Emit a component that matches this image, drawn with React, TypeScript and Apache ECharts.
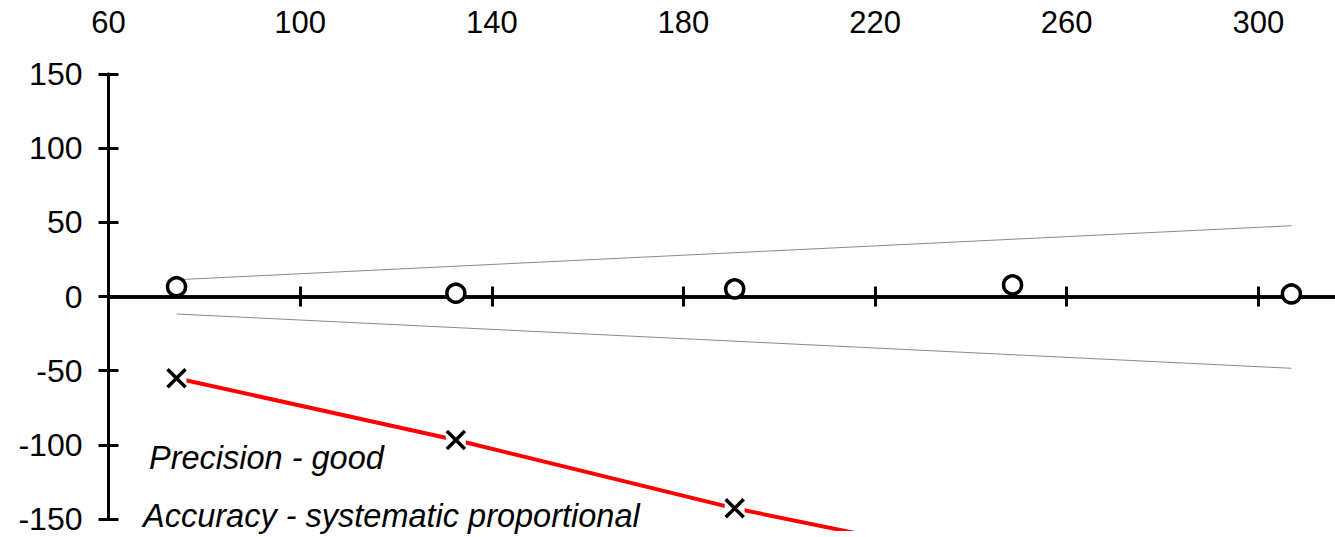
import React, { useEffect, useRef } from "react";
import * as echarts from "echarts";

// Precision series (circles)
const precisionX = [74.2, 132.5, 190.7, 248.7, 306.9];
const precisionY = [6.6, 2.2, 5.1, 7.8, 1.7];
// Accuracy series (crosses + red line)
const accuracyX = [74.2, 132.5, 190.7, 248.7];
const accuracyY = [-55.1, -96.7, -142.8, -181.2];
// Limit lines
const limitX = [74.2, 306.9];
const upperLimitY = [11.3, 47.7];
const lowerLimitY = [-11.8, -48.4];
// Ticks
const xTickLabels = [60, 100, 140, 180, 220, 260, 300];
const xTicks = [100, 140, 180, 220, 260, 300];
const yTickLabels = [-150, -100, -50, 0, 50, 100, 150];
const notes = ["Precision - good", "Accuracy - systematic proportional"];

const FONT = "'Liberation Sans', Arial, sans-serif";

const zip = (xs: number[], ys: number[]) => xs.map((x, i) => [x, ys[i]]);

export default function App() {
  const ref = useRef<HTMLDivElement>(null);
  useEffect(() => {
    if (!ref.current) return;
    const chart = echarts.init(ref.current, undefined, { renderer: "svg" });
    const xMin = 60;
    const xMax = 316;
    const tickStyle = { color: "#000", width: 3 };
    const axisLineStyle = { color: "#000", width: 3.5 };
    chart.setOption({
      animation: false,
      backgroundColor: "#fff",
      grid: [
        { left: 108.5, right: 0, top: 74, bottom: 18 },
        { left: 108.5, right: 0, top: 74, bottom: 8 },
      ],
      xAxis: [
        {
          type: "value", gridIndex: 0, min: xMin, max: xMax, position: "top",
          axisLine: { show: false }, axisTick: { show: false }, splitLine: { show: false },
          axisLabel: { customValues: xTickLabels, fontSize: 31, color: "#000", fontFamily: FONT, margin: 36 },
        },
        {
          type: "value", gridIndex: 0, min: xMin, max: xMax, position: "bottom",
          axisLine: { show: true, onZero: true, onZeroAxisIndex: 0, lineStyle: axisLineStyle },
          axisTick: { show: true, customValues: xTicks, length: 10, inside: false, lineStyle: tickStyle },
          axisLabel: { show: false }, splitLine: { show: false },
        },
        {
          type: "value", gridIndex: 0, min: xMin, max: xMax, position: "bottom",
          axisLine: { show: true, onZero: true, onZeroAxisIndex: 1, lineStyle: axisLineStyle },
          axisTick: { show: true, customValues: xTicks, length: 10, inside: true, lineStyle: tickStyle },
          axisLabel: { show: false }, splitLine: { show: false },
        },
        { type: "value", gridIndex: 1, min: xMin, max: xMax, show: false },
      ],
      yAxis: [
        {
          type: "value", gridIndex: 0, min: -150, max: 150, interval: 50, position: "left",
          axisLine: { show: true, onZero: false, lineStyle: tickStyle },
          axisTick: { show: true, length: 10, inside: false, lineStyle: tickStyle },
          axisLabel: { customValues: yTickLabels, fontSize: 32, color: "#000", fontFamily: FONT, margin: 26 },
          splitLine: { show: false },
        },
        {
          type: "value", gridIndex: 0, min: -150, max: 150, interval: 50, position: "left",
          axisLine: { show: true, onZero: false, lineStyle: tickStyle },
          axisTick: { show: true, length: 10, inside: true, lineStyle: tickStyle },
          axisLabel: { show: false }, splitLine: { show: false },
        },
        { type: "value", gridIndex: 1, min: -156.74, max: 150, show: false },
      ],
      series: [
        {
          type: "line", xAxisIndex: 1, yAxisIndex: 0, data: zip(limitX, upperLimitY),
          symbol: "none", lineStyle: { color: "#8a8a8a", width: 1 }, z: 3,
        },
        {
          type: "line", xAxisIndex: 1, yAxisIndex: 0, data: zip(limitX, lowerLimitY),
          symbol: "none", lineStyle: { color: "#8a8a8a", width: 1 }, z: 3,
        },
        {
          type: "scatter", xAxisIndex: 1, yAxisIndex: 0, data: zip(precisionX, precisionY),
          symbol: "circle", symbolSize: 18,
          itemStyle: { color: "#fff", borderColor: "#000", borderWidth: 3.5, opacity: 1 }, z: 4,
        },
        {
          type: "line", xAxisIndex: 3, yAxisIndex: 2, data: zip(accuracyX, accuracyY),
          symbol: "none", clip: true, lineStyle: { color: "#ff0000", width: 4 }, z: 3,
        },
        {
          type: "scatter", xAxisIndex: 3, yAxisIndex: 2, data: zip(accuracyX, accuracyY),
          symbol: "rect", symbolSize: 20, itemStyle: { color: "#fff", opacity: 1 }, z: 4,
        },
        {
          type: "scatter", xAxisIndex: 3, yAxisIndex: 2, data: zip(accuracyX, accuracyY),
          symbol: "path://M0,0L10,10M10,0L0,10", symbolSize: 18,
          itemStyle: { color: "none", borderColor: "#000", borderWidth: 3.5, opacity: 1 }, z: 5,
        },
      ],
      graphic: [
        {
          type: "text", x: 149, y: 458, z: 10,
          style: { text: notes[0], fontSize: 32.5, fontStyle: "italic", fontFamily: FONT, fill: "#000", align: "left", verticalAlign: "middle" },
        },
        {
          type: "text", x: 143, y: 516, z: 10,
          style: { text: notes[1], fontSize: 32.5, fontStyle: "italic", fontFamily: FONT, fill: "#000", align: "left", verticalAlign: "middle" },
        },
      ],
    });
    return () => chart.dispose();
  }, []);
  return (
    <div
      ref={ref}
      style={{ position: "fixed", left: 0, top: 0, width: 1335, height: 537, background: "#fff" }}
    />
  );
}
